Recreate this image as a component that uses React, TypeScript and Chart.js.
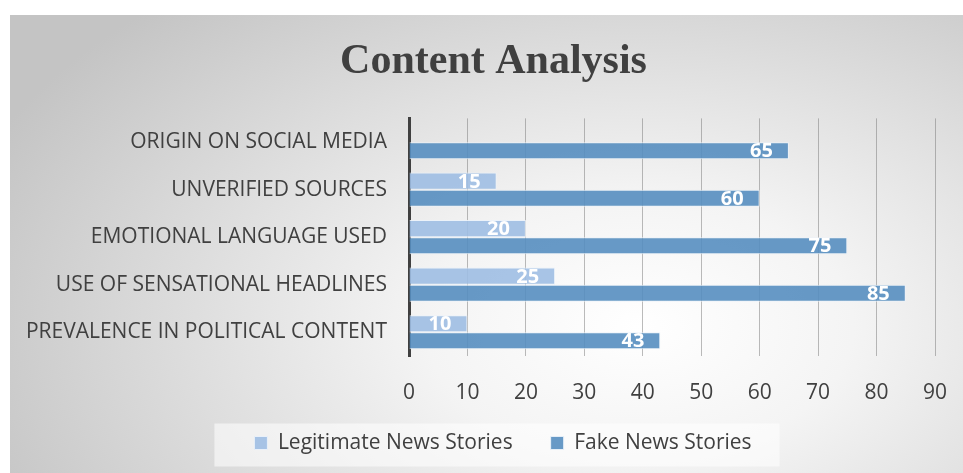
import React, { useEffect, useRef } from "react";
import { Chart, registerables } from "chart.js";

Chart.register(...registerables);

const categories = [
  "ORIGIN ON SOCIAL MEDIA",
  "UNVERIFIED SOURCES",
  "EMOTIONAL LANGUAGE USED",
  "USE OF SENSATIONAL HEADLINES",
  "PREVALENCE IN POLITICAL CONTENT",
];
const legitimateValues: (number | null)[] = [null, 15, 20, 25, 10];
const fakeValues: number[] = [65, 60, 75, 85, 43];
const seriesNames = ["Legitimate News Stories", "Fake News Stories"];
const xTicks = [0, 10, 20, 30, 40, 50, 60, 70, 80, 90];
const titleText = "Content Analysis";

const legitColor = "rgba(158,190,227,0.9)";
const fakeColor = "rgba(86,142,192,0.9)";
const textColor = "#404040";
const FONT = "'Open Sans', 'DejaVu Sans', sans-serif";

const dataLabelPlugin = {
  id: "dataLabels",
  afterDatasetsDraw(chart: any) {
    const ctx = chart.ctx;
    ctx.save();
    ctx.font = `bold 20px ${FONT}`;
    ctx.fillStyle = "#ffffff";
    ctx.textAlign = "right";
    ctx.textBaseline = "middle";
    chart.data.datasets.forEach((ds: any, di: number) => {
      const meta = chart.getDatasetMeta(di);
      meta.data.forEach((el: any, i: number) => {
        const v = ds.data[i];
        if (v === null || v === undefined) return;
        ctx.fillText(String(v), el.x - 16, el.y + 1);
      });
    });
    ctx.restore();
  },
};

const shiftPlugin = {
  id: "shiftBoxes",
  afterLayout(chart: any) {
    const t = chart.titleBlock;
    if (t) {
      t.left += 21;
      t.right += 21;
    }
    const lg = chart.legend;
    if (lg) {
      lg.left += 30.5;
      lg.right += 30.5;
      lg.top -= 5;
      lg.bottom -= 5;
    }
  },
};

const legendBoxPlugin = {
  id: "legendBox",
  beforeDraw(chart: any) {
    const lg = chart.legend;
    if (!lg || !lg.legendHitBoxes || !lg.legendHitBoxes.length) return;
    const boxes = lg.legendHitBoxes;
    let l = Infinity, r = -Infinity, t = Infinity, b = -Infinity;
    boxes.forEach((h: any) => {
      l = Math.min(l, h.left);
      r = Math.max(r, h.left + h.width);
      t = Math.min(t, h.top);
      b = Math.max(b, h.top + h.height);
    });
    const ctx = chart.ctx;
    ctx.save();
    ctx.fillStyle = "rgba(255,255,255,0.55)";
    ctx.fillRect(l - 40, t - 9, r - l + 68, b - t + 22);
    ctx.restore();
  },
};

export default function App() {
  const ref = useRef<HTMLCanvasElement | null>(null);
  useEffect(() => {
    if (!ref.current) return;
    const chart = new Chart(ref.current, {
      type: "bar",
      data: {
        labels: categories,
        datasets: [
          {
            label: seriesNames[0],
            data: legitimateValues,
            backgroundColor: legitColor,
            borderColor: "rgba(235,242,250,0.9)",
            borderWidth: 1,
          },
          {
            label: seriesNames[1],
            data: fakeValues,
            backgroundColor: fakeColor,
            borderColor: "rgba(235,242,250,0.9)",
            borderWidth: 1,
          },
        ],
      },
      options: {
        indexAxis: "y",
        animation: false,
        responsive: true,
        maintainAspectRatio: false,
        datasets: {
          bar: { categoryPercentage: 0.72, barPercentage: 1 },
        },
        layout: { padding: { left: 0, right: 28, top: 0, bottom: 4.5 } },
        scales: {
          x: {
            min: 0,
            max: 90,
            afterBuildTicks(scale: any) {
              scale.ticks = xTicks.map((v) => ({ value: v }));
            },
            afterFit(scale: any) {
              scale.height = 43.5;
              scale.paddingLeft = 0;
              scale.paddingRight = 0;
            },
            ticks: {
              font: { family: FONT, size: 21 },
              color: textColor,
              padding: 24,
            },
            grid: { color: "rgba(120,120,120,0.5)", drawTicks: false, lineWidth: 1 },
            border: { display: false },
          },
          y: {
            afterFit(scale: any) {
              scale.width = 399;
            },
            ticks: {
              font: { family: FONT, size: 21 },
              color: textColor,
              padding: 22,
            },
            grid: { display: false, drawTicks: false },
            border: { display: true, color: "#404040", width: 3 },
          },
        },
        plugins: {
          title: {
            display: true,
            text: titleText,
            color: textColor,
            font: { family: "'Liberation Serif', 'Times New Roman', serif", size: 42, weight: "bold" },
            padding: { top: 22, bottom: 31 },
          },
          legend: {
            position: "bottom",
            labels: {
              font: { family: FONT, size: 21 },
              color: textColor,
              boxWidth: 13,
              boxHeight: 13,
              padding: 38,
            },
          },
          tooltip: { enabled: false },
        },
      },
      plugins: [shiftPlugin, legendBoxPlugin, dataLabelPlugin],
    });
    return () => chart.destroy();
  }, []);

  return (
    <div
      style={{
        position: "absolute",
        left: 10,
        top: 15,
        width: 953,
        height: 458,
        background:
          "radial-gradient(ellipse 75% 95% at 66% 68%, #ffffff 0%, #f4f4f4 30%, #dcdcdc 65%, #c4c4c4 100%)",
      }}
    >
      <canvas ref={ref} />
    </div>
  );
}
